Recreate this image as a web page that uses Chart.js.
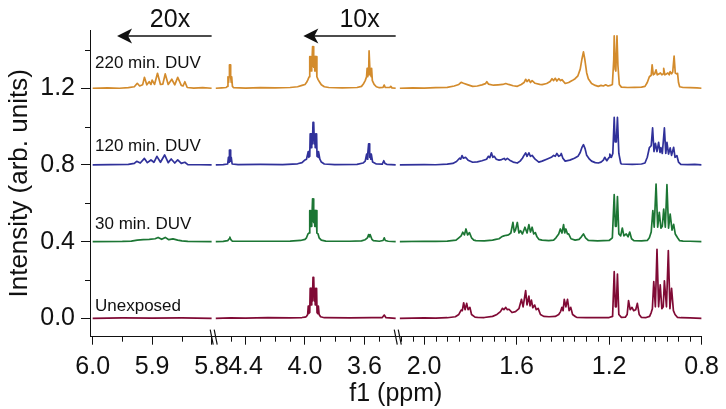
<!DOCTYPE html>
<html>
<head>
<meta charset="utf-8">
<script src="https://cdn.jsdelivr.net/npm/chart.js@4.4.1/dist/chart.umd.min.js"></script>
<style>
  html, body { margin: 0; padding: 0; background: #fff; }
  #wrap { width: 726px; height: 409px; }
</style>
</head>
<body>
<div id="wrap"><canvas id="nmr"></canvas></div>
<script>
// ---- traces: [ppm, intensity above the trace baseline] ----
const traceNames = ['Unexposed', '30 min. DUV', '120 min. DUV', '220 min. DUV'];
const traceOffsets = [0, 0.4, 0.8, 1.2];

// 6.0 - 5.8 ppm window (shown 20x)
const unexposedA = [[6.0,0],[5.95,0.002],[5.9,0.001],[5.85,0.002],[5.8,0]];
const min30A = [[6.0,0],[5.95,0.001],[5.935,0.003],[5.925,0.008],[5.915,0.01],[5.905,0.012],[5.895,0.015],[5.89,0.022],[5.884,0.012],[5.878,0.022],[5.872,0.01],[5.865,0.014],[5.857,0.008],[5.85,0.004],[5.84,0.001],[5.8,0]];
const min120A = [[6.0,0],[5.97,0.002],[5.94,0.003],[5.93,0.008],[5.926,0.019],[5.92,0.01],[5.913,0.034],[5.908,0.012],[5.902,0.026],[5.897,0.014],[5.892,0.045],[5.886,0.014],[5.879,0.052],[5.873,0.012],[5.868,0.031],[5.862,0.01],[5.857,0.026],[5.851,0.008],[5.845,0.014],[5.84,0.002],[5.82,0.001],[5.8,0]];
const min220A = [[6.0,0],[5.975,0.002],[5.955,0],[5.94,0.003],[5.93,0.008],[5.925,0.026],[5.921,0.012],[5.916,0.018],[5.913,0.057],[5.909,0.018],[5.905,0.034],[5.902,0.02],[5.9,0.043],[5.896,0.02],[5.891,0.078],[5.886,0.02],[5.882,0.022],[5.878,0.075],[5.873,0.02],[5.867,0.047],[5.862,0.018],[5.857,0.057],[5.851,0.015],[5.848,0.012],[5.845,0.034],[5.841,0.004],[5.83,0.001],[5.815,0.003],[5.8,0]];

// 4.6 - 3.39 ppm window (shown 10x)
const unexposedB = [[4.6,0],[4.5,0.002],[4.4,0.001],[4.25,0.003],[4.1,0.002],[4.02,0.004],[4.0,0.006],[3.99,0.01],[3.982,0.02],[3.978,0.064],[3.974,0.025],[3.971,0.064],[3.968,0.03],[3.965,0.156],[3.962,0.07],[3.959,0.156],[3.956,0.07],[3.953,0.156],[3.95,0.09],[3.946,0.214],[3.943,0.12],[3.94,0.214],[3.937,0.09],[3.934,0.156],[3.931,0.07],[3.928,0.156],[3.925,0.07],[3.922,0.156],[3.919,0.03],[3.916,0.064],[3.913,0.025],[3.91,0.064],[3.905,0.02],[3.895,0.008],[3.87,0.003],[3.7,0.002],[3.55,0.003],[3.48,0.004],[3.467,0.017],[3.455,0.003],[3.39,0]];
const min30B = [[4.6,0],[4.55,0.001],[4.52,0.005],[4.51,0.015],[4.505,0.023],[4.5,0.012],[4.49,0.003],[4.3,0.002],[4.1,0.003],[4.03,0.006],[4.0,0.012],[3.99,0.02],[3.98,0.04],[3.972,0.045],[3.968,0.162],[3.965,0.08],[3.962,0.162],[3.959,0.08],[3.956,0.162],[3.953,0.1],[3.949,0.223],[3.946,0.12],[3.943,0.223],[3.94,0.1],[3.937,0.162],[3.934,0.08],[3.931,0.162],[3.928,0.08],[3.925,0.162],[3.92,0.045],[3.912,0.04],[3.905,0.02],[3.89,0.008],[3.86,0.003],[3.7,0.002],[3.62,0.004],[3.595,0.01],[3.58,0.02],[3.572,0.037],[3.567,0.025],[3.562,0.037],[3.55,0.012],[3.54,0.005],[3.5,0.002],[3.475,0.006],[3.467,0.02],[3.46,0.006],[3.44,0.002],[3.39,0]];
const min120B = [[4.6,0],[4.55,0.002],[4.52,0.005],[4.515,0.04],[4.511,0.015],[4.508,0.078],[4.503,0.078],[4.5,0.02],[4.496,0.04],[4.49,0.005],[4.45,0.002],[4.3,0.003],[4.15,0.002],[4.05,0.006],[4.02,0.012],[4.0,0.026],[3.99,0.03],[3.978,0.07],[3.974,0.04],[3.971,0.07],[3.968,0.045],[3.965,0.162],[3.962,0.09],[3.959,0.162],[3.956,0.09],[3.953,0.162],[3.95,0.11],[3.946,0.222],[3.943,0.13],[3.94,0.222],[3.937,0.11],[3.934,0.162],[3.931,0.09],[3.928,0.162],[3.925,0.09],[3.922,0.162],[3.919,0.045],[3.916,0.07],[3.912,0.04],[3.909,0.07],[3.9,0.03],[3.89,0.015],[3.87,0.005],[3.8,0.002],[3.65,0.003],[3.61,0.01],[3.595,0.02],[3.585,0.057],[3.581,0.03],[3.578,0.057],[3.572,0.11],[3.568,0.11],[3.565,0.04],[3.561,0.057],[3.557,0.03],[3.554,0.057],[3.545,0.015],[3.52,0.005],[3.48,0.004],[3.47,0.022],[3.462,0.008],[3.45,0.003],[3.39,0]];
const min220B = [[4.6,0],[4.56,0.002],[4.53,0.004],[4.522,0.01],[4.518,0.06],[4.514,0.03],[4.511,0.06],[4.508,0.122],[4.503,0.122],[4.5,0.06],[4.496,0.03],[4.493,0.06],[4.488,0.01],[4.48,0.003],[4.4,0.001],[4.3,0.003],[4.2,0.002],[4.1,0.004],[4.05,0.008],[4.02,0.015],[4.0,0.02],[3.99,0.03],[3.98,0.045],[3.972,0.06],[3.968,0.165],[3.965,0.09],[3.962,0.165],[3.959,0.09],[3.956,0.165],[3.953,0.11],[3.949,0.217],[3.946,0.13],[3.943,0.217],[3.94,0.11],[3.937,0.165],[3.934,0.09],[3.931,0.165],[3.928,0.09],[3.925,0.165],[3.92,0.06],[3.912,0.045],[3.9,0.03],[3.89,0.018],[3.87,0.008],[3.84,0.004],[3.75,0.002],[3.65,0.004],[3.62,0.01],[3.605,0.025],[3.595,0.04],[3.586,0.06],[3.582,0.104],[3.578,0.06],[3.575,0.104],[3.572,0.07],[3.569,0.195],[3.565,0.195],[3.562,0.07],[3.559,0.104],[3.555,0.06],[3.552,0.104],[3.547,0.04],[3.535,0.02],[3.52,0.008],[3.5,0.003],[3.475,0.005],[3.467,0.017],[3.46,0.004],[3.43,0.004],[3.423,0.01],[3.415,0.002],[3.39,0]];

// 2.105 - 0.8 ppm window
const unexposedC = [[2.105,0],[2.05,0.001],[2.0,0.002],[1.95,0.001],[1.9,0.003],[1.865,0.008],[1.85,0.02],[1.84,0.043],[1.835,0.04],[1.829,0.081],[1.823,0.045],[1.816,0.078],[1.81,0.045],[1.802,0.057],[1.795,0.02],[1.78,0.006],[1.769,0.005],[1.74,0.004],[1.704,0.01],[1.685,0.02],[1.67,0.035],[1.661,0.052],[1.655,0.045],[1.647,0.057],[1.64,0.045],[1.633,0.047],[1.62,0.03],[1.605,0.035],[1.59,0.05],[1.579,0.099],[1.572,0.06],[1.561,0.144],[1.555,0.07],[1.547,0.116],[1.542,0.065],[1.536,0.095],[1.53,0.055],[1.522,0.069],[1.515,0.045],[1.507,0.052],[1.497,0.02],[1.483,0.01],[1.46,0.008],[1.433,0.01],[1.418,0.02],[1.41,0.035],[1.404,0.057],[1.399,0.04],[1.394,0.099],[1.387,0.06],[1.38,0.099],[1.373,0.04],[1.366,0.057],[1.358,0.02],[1.345,0.008],[1.34,0.005],[1.3,0.004],[1.25,0.003],[1.2,0.004],[1.185,0.01],[1.178,0.243],[1.173,0.06],[1.169,0.06],[1.164,0.231],[1.158,0.02],[1.147,0.005],[1.13,0.006],[1.122,0.02],[1.116,0.092],[1.109,0.045],[1.101,0.057],[1.094,0.04],[1.085,0.045],[1.078,0.078],[1.07,0.02],[1.061,0.005],[1.04,0.004],[1.025,0.01],[1.018,0.03],[1.013,0.05],[1.007,0.191],[1.0,0.06],[0.993,0.36],[0.986,0.06],[0.979,0.174],[0.972,0.05],[0.966,0.06],[0.961,0.196],[0.952,0.06],[0.944,0.353],[0.937,0.05],[0.93,0.156],[0.922,0.04],[0.915,0.02],[0.905,0.005],[0.89,0.003],[0.85,0.002],[0.8,0]];
const min30C = [[2.105,0],[2.0,0.002],[1.95,0.001],[1.9,0.003],[1.862,0.008],[1.85,0.02],[1.84,0.03],[1.833,0.049],[1.826,0.035],[1.819,0.066],[1.812,0.035],[1.804,0.047],[1.795,0.02],[1.785,0.008],[1.776,0.005],[1.74,0.004],[1.704,0.008],[1.69,0.012],[1.676,0.015],[1.665,0.025],[1.655,0.03],[1.645,0.033],[1.635,0.035],[1.625,0.045],[1.616,0.1],[1.61,0.05],[1.605,0.06],[1.597,0.1],[1.59,0.045],[1.583,0.057],[1.575,0.04],[1.564,0.075],[1.555,0.045],[1.547,0.089],[1.54,0.05],[1.533,0.075],[1.526,0.04],[1.519,0.047],[1.512,0.025],[1.504,0.012],[1.49,0.008],[1.461,0.005],[1.44,0.008],[1.43,0.02],[1.418,0.04],[1.411,0.066],[1.404,0.045],[1.397,0.089],[1.392,0.045],[1.387,0.066],[1.38,0.04],[1.375,0.04],[1.365,0.015],[1.347,0.008],[1.33,0.012],[1.32,0.025],[1.311,0.04],[1.302,0.02],[1.29,0.006],[1.25,0.004],[1.2,0.006],[1.186,0.02],[1.178,0.245],[1.173,0.08],[1.169,0.08],[1.164,0.235],[1.158,0.04],[1.15,0.03],[1.143,0.071],[1.136,0.03],[1.126,0.04],[1.118,0.025],[1.111,0.05],[1.103,0.015],[1.093,0.005],[1.06,0.004],[1.035,0.006],[1.026,0.02],[1.018,0.05],[1.011,0.162],[1.005,0.075],[0.997,0.3],[0.99,0.075],[0.983,0.153],[0.976,0.07],[0.97,0.08],[0.964,0.17],[0.957,0.075],[0.95,0.297],[0.943,0.07],[0.936,0.144],[0.928,0.06],[0.921,0.09],[0.914,0.04],[0.904,0.02],[0.895,0.005],[0.88,0.003],[0.85,0.002],[0.8,0]];
const min120C = [[2.105,0],[2.0,0.002],[1.95,0.001],[1.9,0.004],[1.876,0.008],[1.86,0.018],[1.847,0.035],[1.842,0.03],[1.836,0.049],[1.83,0.035],[1.821,0.04],[1.81,0.025],[1.79,0.014],[1.77,0.016],[1.75,0.022],[1.73,0.03],[1.722,0.045],[1.716,0.038],[1.709,0.063],[1.703,0.04],[1.697,0.045],[1.688,0.03],[1.676,0.025],[1.665,0.028],[1.654,0.034],[1.648,0.026],[1.64,0.034],[1.63,0.025],[1.615,0.015],[1.597,0.01],[1.585,0.02],[1.575,0.035],[1.568,0.05],[1.561,0.063],[1.555,0.045],[1.547,0.063],[1.54,0.045],[1.533,0.05],[1.52,0.03],[1.504,0.015],[1.49,0.02],[1.47,0.03],[1.45,0.04],[1.44,0.05],[1.433,0.045],[1.426,0.06],[1.418,0.045],[1.41,0.05],[1.407,0.06],[1.4,0.035],[1.39,0.02],[1.37,0.025],[1.35,0.035],[1.335,0.045],[1.325,0.065],[1.318,0.09],[1.311,0.106],[1.304,0.085],[1.297,0.05],[1.285,0.03],[1.276,0.02],[1.26,0.012],[1.247,0.01],[1.235,0.015],[1.225,0.025],[1.219,0.04],[1.21,0.022],[1.2,0.04],[1.197,0.057],[1.19,0.04],[1.184,0.06],[1.178,0.248],[1.174,0.12],[1.169,0.12],[1.164,0.248],[1.158,0.06],[1.15,0.01],[1.147,0.005],[1.1,0.003],[1.06,0.005],[1.045,0.01],[1.035,0.04],[1.026,0.09],[1.018,0.1],[1.012,0.193],[1.006,0.07],[1.0,0.113],[0.993,0.07],[0.986,0.118],[0.98,0.065],[0.976,0.09],[0.97,0.06],[0.961,0.193],[0.955,0.06],[0.95,0.118],[0.943,0.057],[0.936,0.089],[0.93,0.05],[0.921,0.092],[0.915,0.04],[0.907,0.049],[0.9,0.015],[0.89,0.003],[0.86,0.002],[0.83,0.003],[0.8,0]];
const min220C = [[2.105,0],[2.05,0.002],[2.0,0.001],[1.95,0.003],[1.9,0.005],[1.87,0.012],[1.85,0.02],[1.84,0.031],[1.83,0.026],[1.81,0.018],[1.79,0.01],[1.77,0.012],[1.75,0.018],[1.735,0.024],[1.729,0.034],[1.722,0.022],[1.7,0.016],[1.68,0.018],[1.66,0.02],[1.647,0.025],[1.635,0.02],[1.615,0.013],[1.597,0.01],[1.58,0.02],[1.568,0.03],[1.561,0.047],[1.555,0.035],[1.547,0.045],[1.54,0.03],[1.533,0.04],[1.52,0.026],[1.5,0.02],[1.49,0.019],[1.47,0.025],[1.455,0.035],[1.447,0.05],[1.44,0.04],[1.433,0.052],[1.426,0.038],[1.418,0.05],[1.41,0.04],[1.404,0.045],[1.39,0.025],[1.375,0.03],[1.36,0.04],[1.347,0.05],[1.335,0.065],[1.325,0.1],[1.318,0.15],[1.311,0.19],[1.305,0.15],[1.297,0.08],[1.29,0.05],[1.276,0.025],[1.26,0.015],[1.247,0.01],[1.235,0.015],[1.225,0.012],[1.215,0.018],[1.205,0.012],[1.195,0.015],[1.186,0.02],[1.18,0.15],[1.178,0.273],[1.174,0.1],[1.171,0.09],[1.166,0.273],[1.162,0.12],[1.156,0.02],[1.147,0.006],[1.12,0.004],[1.09,0.005],[1.06,0.006],[1.045,0.01],[1.035,0.03],[1.026,0.06],[1.018,0.068],[1.014,0.122],[1.009,0.07],[1.003,0.075],[0.997,0.096],[0.992,0.07],[0.985,0.075],[0.978,0.08],[0.972,0.07],[0.967,0.075],[0.964,0.104],[0.959,0.07],[0.952,0.075],[0.946,0.08],[0.94,0.07],[0.936,0.087],[0.93,0.075],[0.925,0.085],[0.919,0.168],[0.914,0.08],[0.907,0.075],[0.904,0.078],[0.9,0.03],[0.895,0.008],[0.88,0.004],[0.85,0.003],[0.82,0.002],[0.8,0]];

// ---- axes ----
const xSegments = [[6.0, 5.8], [4.6, 3.39], [2.105, 0.8]];
const xMajorTicks = [6.0, 5.9, 5.8, 4.4, 4.0, 3.6, 2.0, 1.6, 1.2, 0.8];
const xMinorTicks = [5.95, 5.85, 4.5, 4.3, 4.2, 4.1, 3.9, 3.8, 3.7, 3.5, 2.1, 2.05, 1.95, 1.9, 1.85, 1.8, 1.75, 1.7, 1.65, 1.55, 1.5, 1.45, 1.4, 1.35, 1.3, 1.25, 1.15, 1.1, 1.05, 1.0, 0.95, 0.9, 0.85];
const yMajorTicks = [0, 0.4, 0.8, 1.2];
const yMinorTicks = [0.2, 0.6, 1.0, 1.4];

// ---- look ----
const traceColors = ['#800a35', '#1c7634', '#30319a', '#d38b2c'];
const labelLift = [7.6, 12.5, 14.3, 20.6];   // px above each trace baseline
const segDensity = [600, 150, 233.3];        // relative width per ppm of each window
const segLead = 2.7;
const segGap = 4.2;
const fontFam = "'Liberation Sans', Arial, Helvetica, sans-serif";
const ink = '#111';

// ---- broken x axis: several ppm windows on one scale ----
const LinearScale = Chart.LinearScale || Chart.registry.getScale('linear');

class BrokenScale extends LinearScale {
    static id = 'broken';

    segmentBoxes() {
        let total = segLead + segGap * (xSegments.length - 1);
        xSegments.forEach((s, i) => total += (s[0] - s[1]) * segDensity[i]);
        const k = (this.right - this.left) / total;
        let pos = this.left + segLead * k;
        return xSegments.map((s, i) => {
            const w = (s[0] - s[1]) * segDensity[i] * k;
            const box = { hi: s[0], lo: s[1], start: pos, end: pos + w };
            pos += w + segGap * k;
            return box;
        });
    }

    buildTicks() {
        const vals = xMajorTicks.concat(xMinorTicks).sort((a, b) => b - a);
        return vals.map(v => ({ value: v, major: xMajorTicks.includes(v) }));
    }

    getPixelForValue(value) {
        if (value === null || value === undefined || isNaN(value)) return NaN;
        const boxes = this.segmentBoxes();
        for (const b of boxes) {
            if (value <= b.hi + 1e-9 && value >= b.lo - 1e-9) {
                return b.start + (b.hi - value) / (b.hi - b.lo) * (b.end - b.start);
            }
        }
        for (let i = 0; i < boxes.length - 1; i++) {
            if (value < boxes[i].lo && value > boxes[i + 1].hi) return (boxes[i].end + boxes[i + 1].start) / 2;
        }
        return value > boxes[0].hi ? boxes[0].start : boxes[boxes.length - 1].end;
    }

    getValueForPixel(pixel) {
        for (const b of this.segmentBoxes()) {
            if (pixel >= b.start && pixel <= b.end) return b.hi - (pixel - b.start) / (b.end - b.start) * (b.hi - b.lo);
        }
        return NaN;
    }
}
Chart.register(BrokenScale);

// ---- extras: minor ticks, axis breaks, labels, magnification arrows ----
const decorPlugin = {
    id: 'decor',
    afterDraw(chart) {
        const { ctx, scales: { x, y } } = chart;
        ctx.save();
        ctx.strokeStyle = ink;
        ctx.lineWidth = 1;

        // minor ticks
        ctx.beginPath();
        x.ticks.forEach(t => {
            if (t.major) return;
            const px = Math.round(x.getPixelForValue(t.value)) + 0.5;
            ctx.moveTo(px, x.top);
            ctx.lineTo(px, x.top + 5);
        });
        y.ticks.forEach(t => {
            if (t.major) return;
            const py = Math.round(y.getPixelForValue(t.value)) + 0.5;
            ctx.moveTo(y.right - 5, py);
            ctx.lineTo(y.right, py);
        });
        ctx.stroke();

        // axis break marks
        const boxes = x.segmentBoxes();
        ctx.lineWidth = 1.2;
        ctx.beginPath();
        for (let i = 0; i < boxes.length - 1; i++) {
            const cx = (boxes[i].end + boxes[i + 1].start) / 2;
            [-3.5, 0.5].forEach(dx => {
                ctx.moveTo(cx + dx, x.top - 7);
                ctx.lineTo(cx + dx + 3, x.top + 8);
            });
        }
        ctx.stroke();

        // trace names
        ctx.fillStyle = ink;
        ctx.font = '17px ' + fontFam;
        ctx.textAlign = 'left';
        ctx.textBaseline = 'alphabetic';
        traceNames.forEach((name, i) => {
            const py = y.getPixelForValue(traceOffsets[i]) - labelLift[i];
            ctx.fillText(name, x.left + 5, py);
        });

        // magnification arrows
        const top = chart.chartArea.top;
        const arrows = [
            { tail: 5.8, tip: 5.959, text: '20x', at: 5.87 },
            { tail: 3.39, tip: 4.011, text: '10x', at: 3.633 }
        ];
        ctx.font = '25px ' + fontFam;
        ctx.textAlign = 'center';
        arrows.forEach(a => {
            const x0 = x.getPixelForValue(a.tail);
            const x1 = x.getPixelForValue(a.tip);
            const ay = top + 6;
            ctx.lineWidth = 1.6;
            ctx.beginPath();
            ctx.moveTo(x0, ay);
            ctx.lineTo(x1 + 8, ay);
            ctx.stroke();
            ctx.beginPath();
            ctx.moveTo(x1, ay);
            ctx.lineTo(x1 + 15, ay - 7.5);
            ctx.lineTo(x1 + 11, ay);
            ctx.lineTo(x1 + 15, ay + 7.5);
            ctx.closePath();
            ctx.fill();
            ctx.fillText(a.text, x.getPixelForValue(a.at), top - 3);
        });
        ctx.restore();
    }
};

// ---- datasets ----
const traceData = [
    [unexposedA, unexposedB, unexposedC],
    [min30A, min30B, min30C],
    [min120A, min120B, min120C],
    [min220A, min220B, min220C]
];
const datasets = [];
traceData.forEach((segs, t) => {
    segs.forEach(seg => {
        datasets.push({
            label: traceNames[t],
            data: seg.map(([p, v]) => ({ x: p, y: v + traceOffsets[t] })),
            borderColor: traceColors[t],
            borderWidth: 1.7,
            borderJoinStyle: 'round',
            pointRadius: 0,
            tension: 0,
            fill: false
        });
    });
});

const tickFont = { family: fontFam, size: 25 };
const titleFont = { family: fontFam, size: 26 };
const tickColorFn = c => (c.tick && c.tick.major) ? ink : 'rgba(0,0,0,0)';

new Chart(document.getElementById('nmr'), {
    type: 'line',
    data: { datasets },
    options: {
        responsive: true,
        maintainAspectRatio: false,
        animation: false,
        events: [],
        layout: { padding: { top: 30, right: 19.3, bottom: 0, left: 0 } },
        plugins: {
            legend: { display: false },
            tooltip: { enabled: false }
        },
        scales: {
            x: {
                type: 'broken',
                min: 0.8,
                max: 6.0,
                afterFit: s => { s.height = 72.3; },
                ticks: {
                    autoSkip: false, maxRotation: 0, minRotation: 0,
                    padding: 7, color: ink, font: tickFont,
                    callback: (v, i, t) => t[i].major ? v.toFixed(1) : ''
                },
                grid: { drawOnChartArea: false, tickLength: 8, tickColor: tickColorFn },
                border: { color: ink, width: 1 },
                title: { display: true, text: 'f1 (ppm)', color: ink, font: tickFont, padding: { top: 0, bottom: 0 } }
            },
            y: {
                type: 'linear',
                min: -0.096,
                max: 1.504,
                afterBuildTicks: s => {
                    s.ticks = yMajorTicks.concat(yMinorTicks).sort((a, b) => a - b)
                        .map(v => ({ value: v, major: yMajorTicks.includes(v) }));
                },
                afterFit: s => { s.width = 90; },
                ticks: {
                    padding: 6, color: ink, font: tickFont,
                    callback: (v, i, t) => t[i].major ? v.toFixed(1) : ''
                },
                grid: { drawOnChartArea: false, tickLength: 9, tickColor: tickColorFn },
                border: { color: ink, width: 1 },
                title: { display: true, text: 'Intensity (arb. units)', color: ink, font: titleFont, padding: { top: 4.5, bottom: 0 } }
            }
        }
    },
    plugins: [decorPlugin]
});
</script>
</body>
</html>
